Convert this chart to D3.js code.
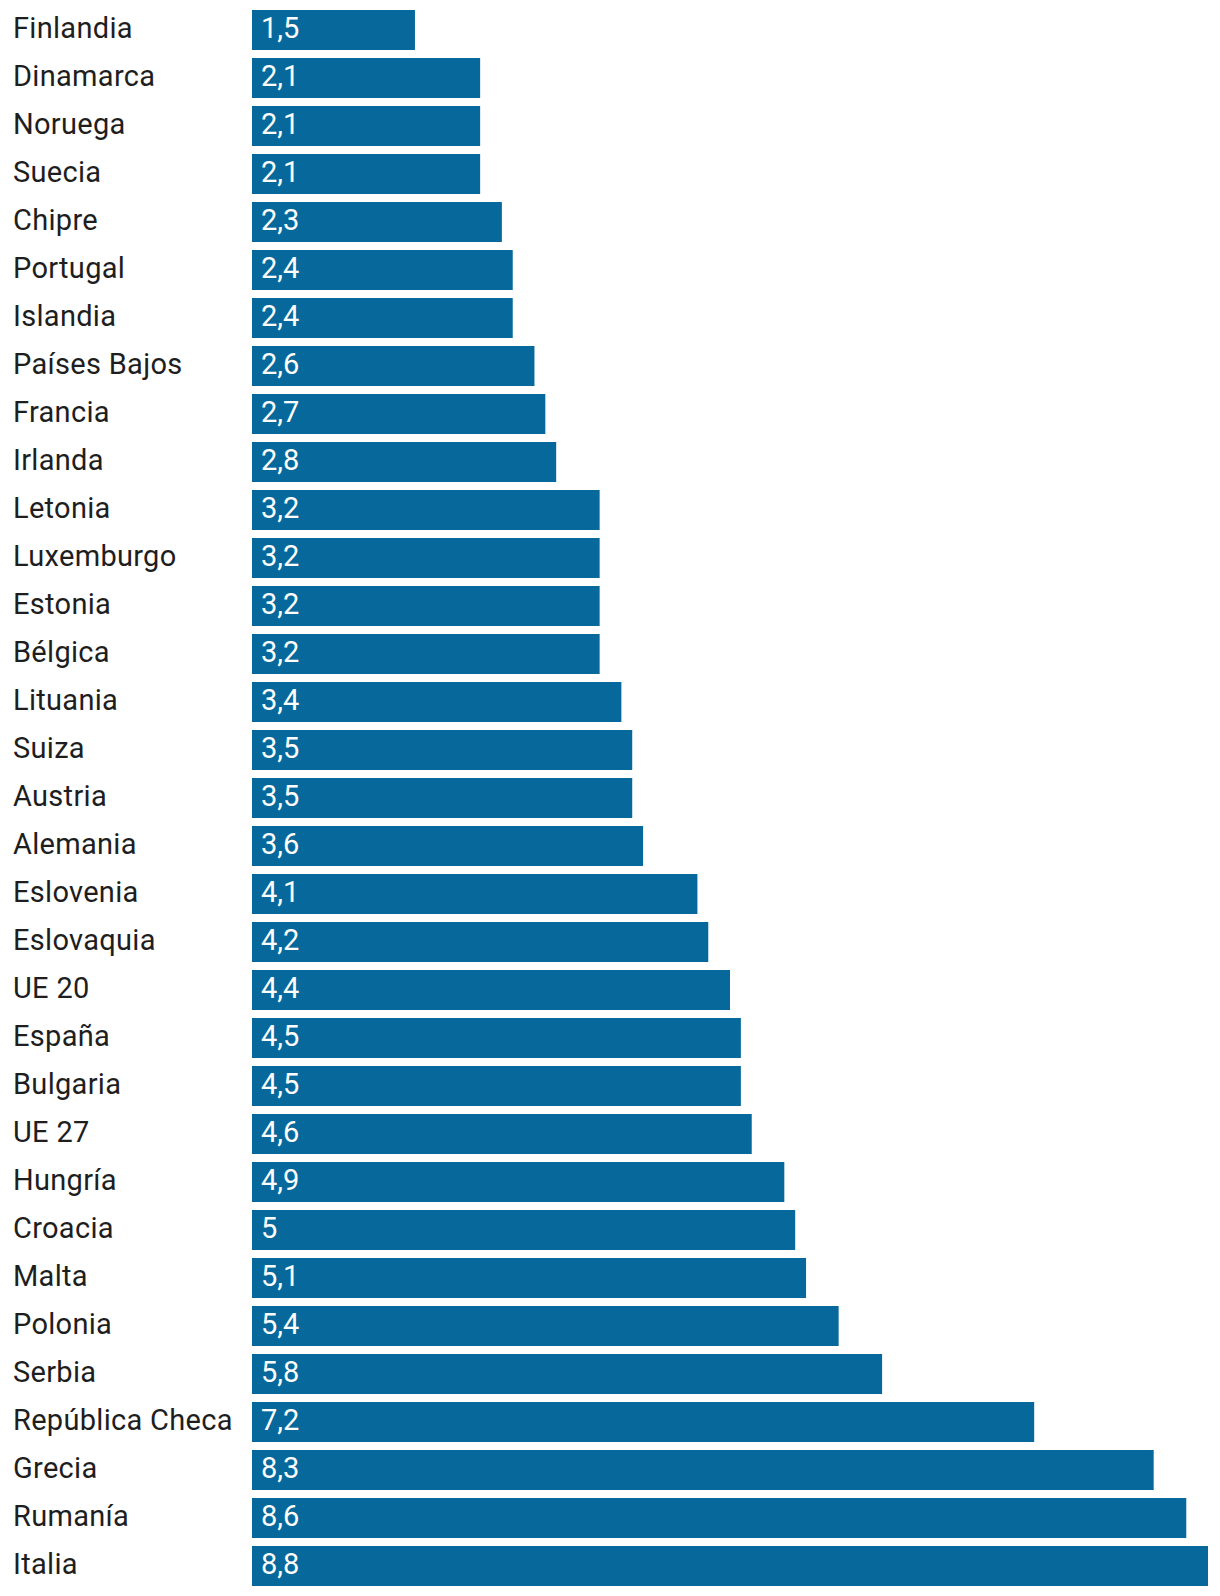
<!DOCTYPE html>
<html><head><meta charset="utf-8">
<script src="https://cdn.jsdelivr.net/npm/d3@7"></script>
<style>body{margin:0;background:#fff}svg{display:block}</style>
</head><body>
<script>
const countries = ["Finlandia","Dinamarca","Noruega","Suecia","Chipre","Portugal","Islandia","Países Bajos","Francia","Irlanda","Letonia","Luxemburgo","Estonia","Bélgica","Lituania","Suiza","Austria","Alemania","Eslovenia","Eslovaquia","UE 20","España","Bulgaria","UE 27","Hungría","Croacia","Malta","Polonia","Serbia","República Checa","Grecia","Rumanía","Italia"];
const values = [1.5,2.1,2.1,2.1,2.3,2.4,2.4,2.6,2.7,2.8,3.2,3.2,3.2,3.2,3.4,3.5,3.5,3.6,4.1,4.2,4.4,4.5,4.5,4.6,4.9,5,5.1,5.4,5.8,7.2,8.3,8.6,8.8];
const valueLabels = ["1,5","2,1","2,1","2,1","2,3","2,4","2,4","2,6","2,7","2,8","3,2","3,2","3,2","3,2","3,4","3,5","3,5","3,6","4,1","4,2","4,4","4,5","4,5","4,6","4,9","5","5,1","5,4","5,8","7,2","8,3","8,6","8,8"];

const W = 1220, H = 1596;
const svg = d3.select("body").append("svg").attr("width", W).attr("height", H);
const x = d3.scaleLinear().domain([0, 8.8]).range([252, 1208]);
const yb = d3.scaleBand().domain(countries).range([10, 10 + 48*33 - 8]).paddingInner(8/48).paddingOuter(0);

const g = svg.append("g");
const rows = g.selectAll("g.row").data(countries).join("g").attr("class","row");
rows.append("rect")
  .attr("x", x(0))
  .attr("y", d => yb(d))
  .attr("width", (d,i) => x(values[i]) - x(0))
  .attr("height", yb.bandwidth())
  .attr("fill", "#07699b");
rows.append("text")
  .attr("x", 13)
  .attr("y", d => yb(d) + yb.bandwidth()/2 + 8)
  .attr("font-family", "Roboto, sans-serif")
  .attr("font-size", 29)
  .attr("letter-spacing", 0.3)
  .attr("fill", "#1e1e1e")
  .text(d => d);
rows.append("text")
  .attr("x", x(0) + 9)
  .attr("y", d => yb(d) + yb.bandwidth()/2 + 8)
  .attr("font-family", "Roboto, sans-serif")
  .attr("font-size", 29)
  .attr("fill", "#fff")
  .text((d,i) => valueLabels[i]);
</script>
</body></html>
